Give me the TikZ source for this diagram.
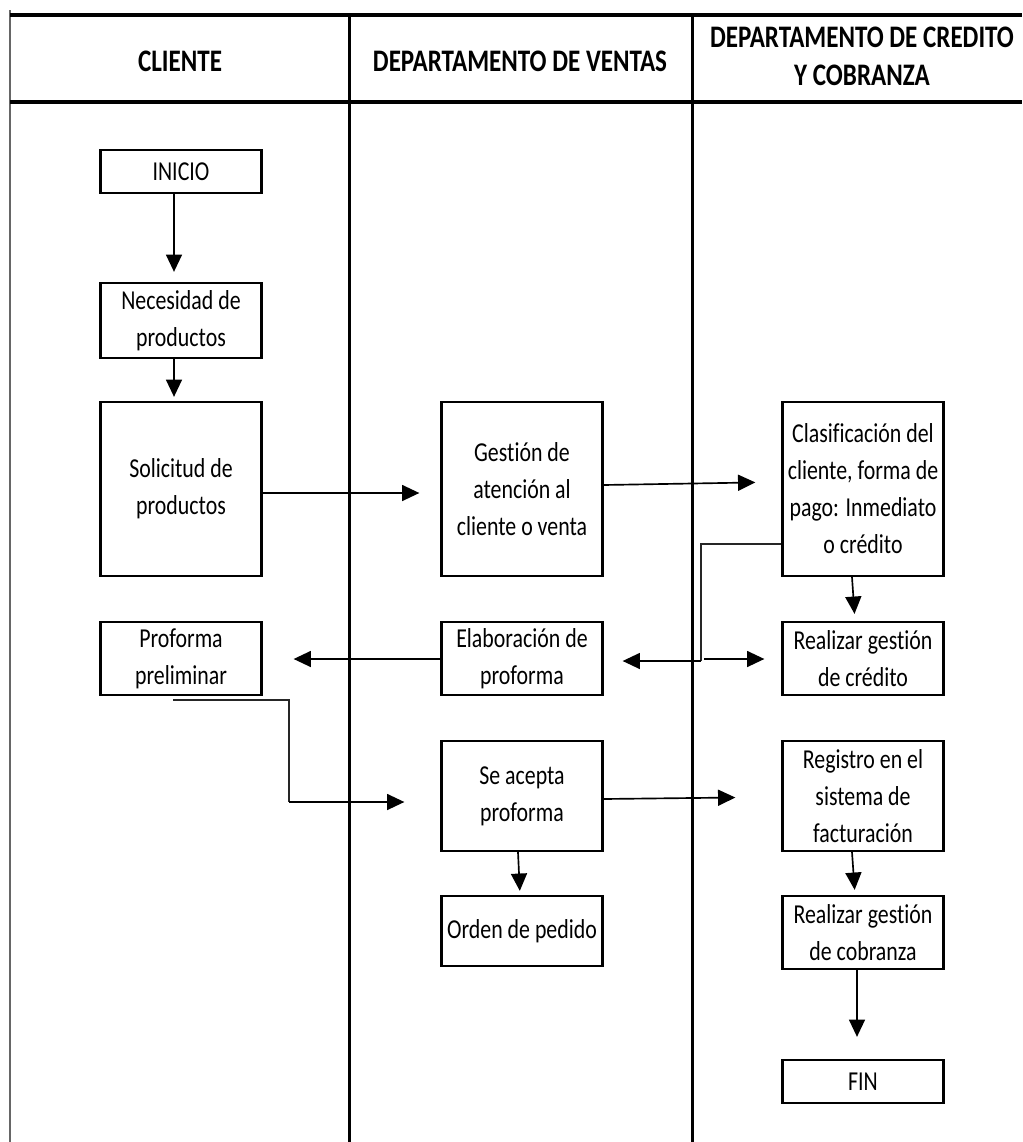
\documentclass[tikz,border=0pt]{standalone}
\usepackage{fontspec}
\setmainfont{Carlito}[FakeStretch=0.8, Ligatures=NoCommon]
\usetikzlibrary{arrows.meta}

\tikzset{
  procbox/.style={draw, line width=1.7pt, inner sep=0pt, align=center,
    minimum width=120.75pt, font=\fontsize{20.5pt}{27.75pt}\selectfont},
  headtext/.style={anchor=base, inner sep=0pt, align=center,
    font=\fontsize{23.5pt}{28.5pt}\selectfont\bfseries},
  flow/.style={line width=1.25pt, -{Triangle[width=12pt,length=13pt]}},
  thinflow/.style={line width=0.9pt, draw=black!85},
  lanerule/.style={line width=2.6pt},
}

\begin{document}
\begin{tikzpicture}[x=0.75pt, y=-0.75pt]
\useasboundingbox (0,0) rectangle (1022,1142);

% swimlane grid
\draw[line width=1.5pt, draw=black!60] (10,10) -- (10,1142);
\draw[lanerule] (10,15) -- (1022,15);
\draw[lanerule] (10,102) -- (1022,102);
\draw[lanerule] (349.5,15) -- (349.5,1142);
\draw[lanerule] (692.5,15) -- (692.5,1142);

% lane headings
\node[headtext] (hcli) at (180,71) {CLIENTE};
\node[headtext] (hven) at (520,71) {DEPARTAMENTO DE VENTAS};
\node[headtext] (hcre1) at (862,47) {DEPARTAMENTO DE CREDITO};
\node[headtext] (hcre2) at (862,85) {Y COBRANZA};

% process boxes
\node[procbox, minimum height=32.25pt] (inicio) at (181,171.5) {INICIO};
\node[procbox, minimum height=56.25pt] (necesidad) at (181,320.5) {Necesidad de\\productos};
\node[procbox, minimum height=130.5pt] (solicitud) at (181,489) {Solicitud de\\productos};
\node[procbox, minimum height=130.5pt] (gestion) at (522,489) {Gestión de\\atención al\\cliente o venta};
\node[procbox, minimum height=130.5pt] (clasif) at (863,489) {Clasificación del\\cliente, forma de\\pago: Inmediato\\o crédito};
\node[procbox, minimum height=54.75pt] (proforma) at (181,658.5) {Proforma\\preliminar};
\node[procbox, minimum height=54.75pt] (elab) at (522,658.5) {Elaboración de\\proforma};
\node[procbox, minimum height=54.75pt] (credito) at (863,658.5) {Realizar gestión\\de crédito};
\node[procbox, minimum height=82.5pt] (acepta) at (522,796) {Se acepta\\proforma};
\node[procbox, minimum height=82.5pt] (registro) at (863,796) {Registro en el\\sistema de\\facturación};
\node[procbox, minimum height=52.5pt] (orden) at (522,931) {Orden de pedido};
\node[procbox, minimum height=54.75pt] (cobranza) at (863,932.5) {Realizar gestión\\de cobranza};
\node[procbox, minimum height=32.25pt] (fin) at (863,1081.5) {FIN};

% helper coordinates for connector routing
\coordinate (xa) at (174,0);
\coordinate (ya) at (0,493);
\coordinate (yb1) at (0,485);
\coordinate (yb2) at (0,482);
\coordinate (xc1) at (852,0);
\coordinate (xc2) at (855,0);
\coordinate (yd) at (0,544);
\coordinate (bend1) at (701,544);
\coordinate (junc) at (701,661);
\coordinate (junc2) at (704,659);
\coordinate (ye) at (0,659);
\coordinate (pstart) at (173,700);
\coordinate (bend2) at (289,700);
\coordinate (bend3) at (289,802);
\coordinate (yf1) at (0,799);
\coordinate (yf2) at (0,797);
\coordinate (xg1) at (518,0);
\coordinate (xg2) at (520,0);
\coordinate (xh) at (857,0);

% connectors
\draw[flow, shorten >=7.5pt] (inicio.south -| xa) -- (necesidad.north -| xa);
\draw[flow, shorten >=3pt] (necesidad.south -| xa) -- (solicitud.north -| xa);
\draw[flow, shorten >=15.75pt] (solicitud.east |- ya) -- (gestion.west |- ya);
\draw[flow, shorten >=19.5pt] (gestion.east |- yb1) -- (clasif.west |- yb2);
\draw[flow, shorten >=5.25pt] (clasif.south -| xc1) -- (credito.north -| xc2);
\draw[thinflow] (clasif.west |- yd) -- (bend1) -- (junc);
\draw[flow, shorten >=14.25pt] (junc) -- (elab.east |- junc);
\draw[flow, shorten >=12.75pt] (junc2) -- (credito.west |- junc2);
\draw[flow, shorten >=23.25pt] (elab.west |- ye) -- (proforma.east |- ye);
\draw[thinflow] (pstart) -- (bend2) -- (bend3);
\draw[flow, shorten >=27pt] (bend3) -- (acepta.west |- bend3);
\draw[flow, shorten >=34.5pt] (acepta.east |- yf1) -- (registro.west |- yf2);
\draw[flow, shorten >=3pt] (acepta.south -| xg1) -- (orden.north -| xg2);
\draw[flow, shorten >=3.75pt] (registro.south -| xc1) -- (cobranza.north -| xc2);
\draw[flow, shorten >=16.5pt] (cobranza.south -| xh) -- (fin.north -| xh);
\end{tikzpicture}
\end{document}
